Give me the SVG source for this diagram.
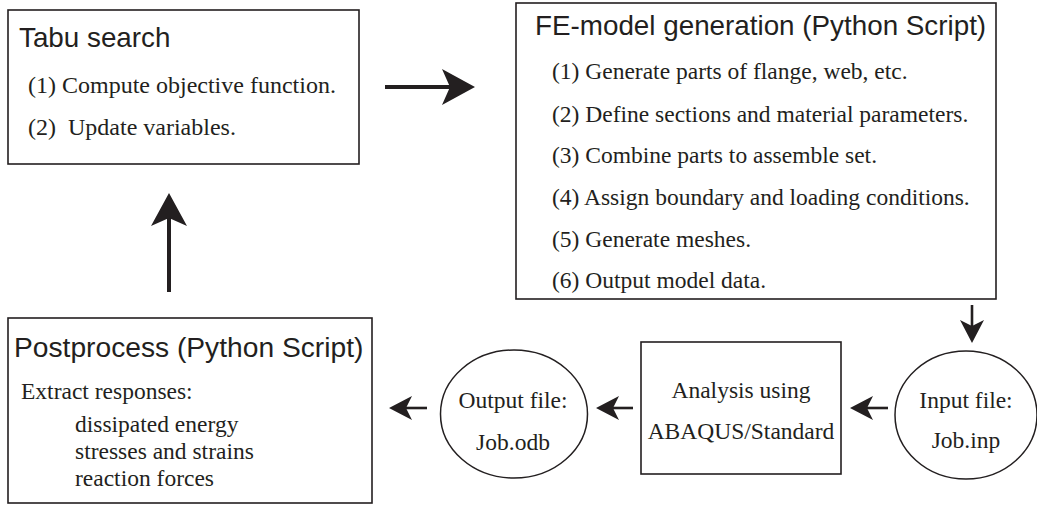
<svg xmlns="http://www.w3.org/2000/svg" width="1037" height="505" viewBox="0 0 1037 505">
<style>
.box{fill:#fff;stroke:#231f20;stroke-width:1.6}
.ell{fill:#fff;stroke:#231f20;stroke-width:1.5}
.title{font-family:"Liberation Sans",Arial,sans-serif;font-size:27.8px;fill:#231f20}
.t{font-family:"Liberation Serif","Times New Roman",serif;font-size:23.5px;fill:#231f20;white-space:pre}
.c{text-anchor:middle}
.big{stroke:#231f20;stroke-width:4;fill:none;marker-end:url(#hb)}
.sm{stroke:#231f20;stroke-width:2.6;fill:none;marker-end:url(#hs)}
</style>
<defs>
<marker id="hb" markerUnits="userSpaceOnUse" viewBox="0 -18 33 36" refX="8" refY="0" markerWidth="33" markerHeight="36" orient="auto" overflow="visible">
<path d="M0,-18 L33,0 L0,18 L8,0 Z" fill="#231f20"/>
</marker>
<marker id="hs" markerUnits="userSpaceOnUse" viewBox="0 -12 23 24" refX="6" refY="0" markerWidth="23" markerHeight="24" orient="auto" overflow="visible">
<path d="M0,-12 L23,0 L0,12 L6,0 Z" fill="#231f20"/>
</marker>
</defs>
<rect width="1037" height="505" fill="#fff"/>
<g id="connectors">
<line class="big" x1="385" y1="87" x2="450" y2="87"/>
<line class="big" x1="169" y1="292" x2="169" y2="218"/>
<line class="sm" x1="972" y1="305" x2="972" y2="326"/>
<line class="sm" x1="888" y1="408" x2="867" y2="408"/>
<line class="sm" x1="633" y1="408" x2="613" y2="408"/>
<line class="sm" x1="427" y1="408" x2="406" y2="408"/>
</g>
<g id="tabu">
<rect class="box" x="8" y="10" width="351" height="154"/>
<text class="title" x="19" y="47">Tabu search</text>
<text class="t" x="28" y="93" style="font-size:24px">(1) Compute objective function.</text>
<text class="t" x="28" y="135" style="font-size:24px">(2)  Update variables.</text>
</g>
<g id="fe">
<rect class="box" x="516" y="3" width="480" height="296"/>
<text class="title" x="535" y="35">FE-model generation (Python Script)</text>
<text class="t" x="552" y="79">(1) Generate parts of flange, web, etc.</text>
<text class="t" x="552" y="122">(2) Define sections and material parameters.</text>
<text class="t" x="552" y="163">(3) Combine parts to assemble set.</text>
<text class="t" x="552" y="205">(4) Assign boundary and loading conditions.</text>
<text class="t" x="552" y="247">(5) Generate meshes.</text>
<text class="t" x="552" y="288">(6) Output model data.</text>
</g>
<g id="input">
<ellipse class="ell" cx="966" cy="415" rx="71" ry="64"/>
<text class="t c" x="966" y="408">Input file:</text>
<text class="t c" x="966" y="448">Job.inp</text>
</g>
<g id="analysis">
<rect class="box" x="641" y="342" width="200" height="132"/>
<text class="t c" x="741" y="398">Analysis using</text>
<text class="t c" x="741" y="439">ABAQUS/Standard</text>
</g>
<g id="output">
<ellipse class="ell" cx="514" cy="414" rx="73.5" ry="64"/>
<text class="t c" x="513" y="408">Output file:</text>
<text class="t c" x="513" y="450">Job.odb</text>
</g>
<g id="postprocess">
<rect class="box" x="8" y="318" width="364" height="185"/>
<text class="title" x="14" y="357" style="font-size:28.2px">Postprocess (Python Script)</text>
<text class="t" x="21" y="399">Extract responses:</text>
<text class="t" x="75" y="432">dissipated energy</text>
<text class="t" x="75" y="459">stresses and strains</text>
<text class="t" x="75" y="486">reaction forces</text>
</g>
</svg>
